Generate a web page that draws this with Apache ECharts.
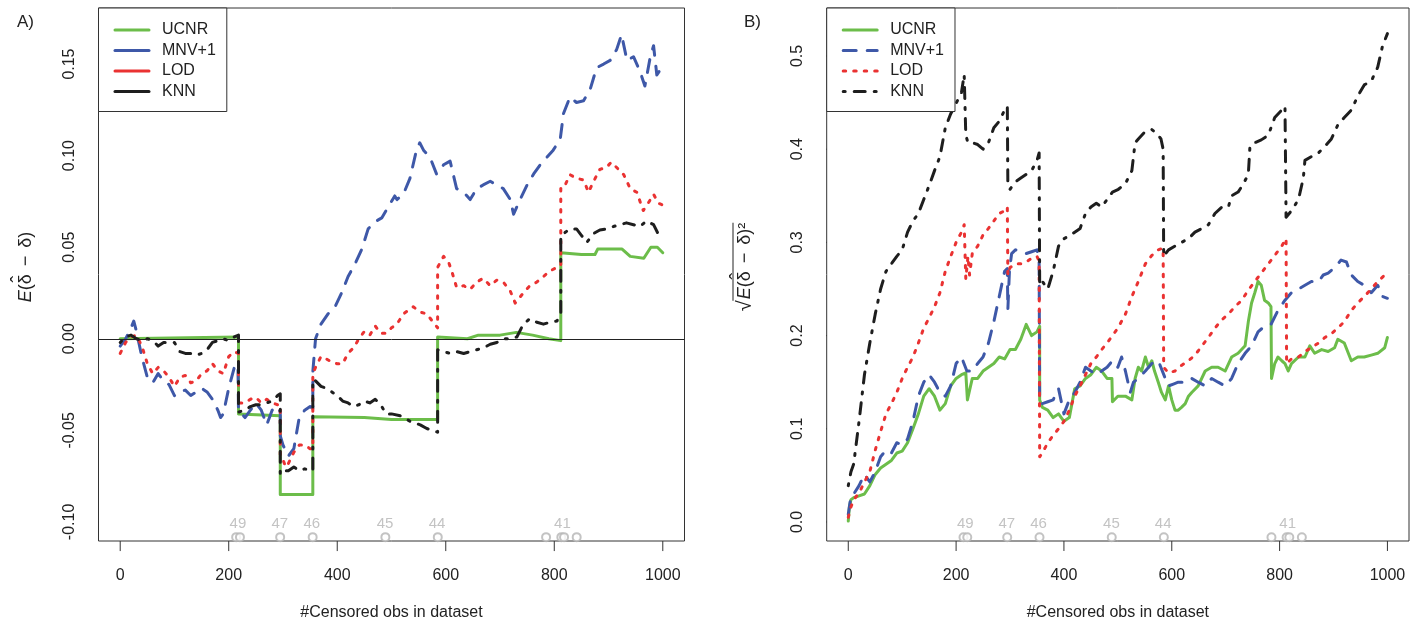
<!DOCTYPE html>
<html>
<head>
<meta charset="utf-8">
<script src="https://cdn.jsdelivr.net/npm/echarts@6/dist/echarts.min.js"></script>
<style>
  html, body { margin: 0; padding: 0; background: #fff; }
  #chart { width: 1421px; height: 626px; }
</style>
</head>
<body>
<div id="chart"></div>
<script>
// ---- data: [censored obs, value] ----
const X_TICKS = [0, 200, 400, 600, 800, 1000];
const A_TICKS = [-0.10, -0.05, 0, 0.05, 0.10, 0.15];
const B_TICKS = [0, 0.1, 0.2, 0.3, 0.4, 0.5];
const METHODS = ['UCNR', 'MNV+1', 'LOD', 'KNN'];

// rug of censoring points and their labels
const RUG_X = [213.7, 220.7, 294.8, 354.7, 488.7, 585.3, 784.9, 813, 818, 841.3];
const RUG_LABELS = ['49', '47', '46', '45', '44', '41'];
const RUG_LABEL_X = [217, 294, 353, 488, 584, 815];

// panel A : bias
const aUcnr = [[0,0.000],[218,0.001],[218,-0.041],[295,-0.042],[295,-0.085],[355,-0.085],[355,-0.0425],[450,-0.043],[500,-0.044],[585,-0.044],[585,0.001],[640,0.000],[660,0.002],[700,0.002],[730,0.0035],[760,0.002],[790,0.000],[812,-0.001],[812,0.047],[850,0.046],[875,0.046],[880,0.049],[925,0.049],[940,0.045],[965,0.044],[978,0.050],[990,0.050],[1000,0.047]];
const aMnv = [[0,-0.004],[10,0.000],[20,0.006],[25,0.0097],[30,0.004],[40,-0.010],[50,-0.021],[60,-0.024],[70,-0.019],[80,-0.023],[90,-0.025],[100,-0.031],[110,-0.029],[120,-0.028],[130,-0.031],[140,-0.029],[150,-0.027],[160,-0.029],[170,-0.033],[180,-0.039],[185,-0.043],[190,-0.041],[200,-0.027],[210,-0.016],[217,-0.014],[218,-0.039],[230,-0.043],[240,-0.039],[250,-0.035],[260,-0.039],[270,-0.047],[280,-0.039],[290,-0.037],[295,-0.040],[295,-0.053],[300,-0.058],[310,-0.064],[320,-0.060],[330,-0.043],[340,-0.039],[350,-0.037],[355,-0.038],[355,-0.018],[360,0.000],[370,0.008],[383,0.0136],[396,0.0175],[408,0.025],[420,0.034],[433,0.041],[445,0.0487],[457,0.060],[470,0.064],[482,0.066],[494,0.072],[506,0.078],[510,0.076],[522,0.079],[534,0.0876],[546,0.103],[552,0.107],[559,0.103],[571,0.099],[583,0.090],[596,0.095],[608,0.097],[620,0.082],[633,0.080],[645,0.076],[657,0.082],[669,0.084],[682,0.086],[694,0.084],[706,0.082],[719,0.076],[725,0.068],[737,0.076],[750,0.084],[762,0.090],[774,0.095],[786,0.099],[798,0.103],[811,0.109],[817,0.123],[829,0.132],[841,0.129],[854,0.130],[866,0.136],[878,0.148],[891,0.150],[903,0.152],[915,0.158],[924,0.166],[934,0.152],[946,0.154],[958,0.146],[967,0.138],[977,0.154],[983,0.160],[989,0.144],[1000,0.149]];
const aLod = [[0,-0.008],[10,-0.002],[20,0.001],[30,0.002],[40,-0.004],[50,-0.0136],[60,-0.019],[70,-0.0156],[80,-0.0175],[90,-0.021],[100,-0.026],[110,-0.021],[120,-0.020],[130,-0.024],[140,-0.023],[150,-0.019],[160,-0.0175],[170,-0.0136],[180,-0.0175],[190,-0.019],[200,-0.0097],[210,-0.007],[218,-0.008],[218,-0.035],[230,-0.035],[240,-0.033],[250,-0.032],[260,-0.035],[270,-0.033],[280,-0.035],[290,-0.036],[295,-0.036],[295,-0.064],[300,-0.066],[305,-0.070],[310,-0.068],[320,-0.062],[330,-0.058],[340,-0.058],[350,-0.060],[355,-0.060],[355,-0.019],[360,-0.0156],[370,-0.0097],[380,-0.011],[390,-0.0127],[400,-0.0136],[410,-0.0136],[420,-0.0078],[430,-0.005],[440,0.000],[450,0.004],[460,0.002],[470,0.007],[480,0.003],[490,0.003],[500,0.006],[510,0.008],[522,0.0136],[540,0.0175],[553,0.0146],[565,0.0136],[577,0.009],[585,0.006],[585,0.039],[596,0.045],[605,0.042],[611,0.037],[620,0.028],[633,0.029],[645,0.027],[657,0.031],[669,0.033],[682,0.029],[694,0.032],[706,0.031],[719,0.026],[728,0.0195],[743,0.025],[755,0.029],[768,0.031],[780,0.034],[792,0.037],[805,0.039],[812,0.040],[812,0.082],[817,0.082],[829,0.0896],[841,0.0876],[854,0.0867],[863,0.080],[872,0.0857],[884,0.0925],[896,0.0935],[905,0.0964],[915,0.0935],[928,0.0896],[940,0.082],[952,0.080],[964,0.070],[973,0.074],[983,0.0789],[992,0.074],[1000,0.073]];
const aKnn = [[0,-0.002],[10,0.001],[20,0.002],[30,0.000],[40,-0.001],[50,0.000],[60,-0.001],[70,-0.004],[80,-0.002],[90,-0.002],[100,-0.002],[110,-0.007],[120,-0.008],[130,-0.008],[140,-0.009],[150,-0.008],[160,-0.006],[170,-0.002],[180,-0.001],[190,0.000],[200,-0.001],[210,0.001],[218,0.002],[218,-0.040],[230,-0.039],[240,-0.037],[250,-0.036],[260,-0.036],[270,-0.035],[280,-0.034],[290,-0.031],[295,-0.030],[295,-0.074],[300,-0.072],[310,-0.072],[320,-0.070],[330,-0.072],[340,-0.071],[350,-0.072],[355,-0.072],[355,-0.022],[360,-0.023],[370,-0.026],[380,-0.027],[390,-0.029],[400,-0.031],[410,-0.034],[420,-0.035],[430,-0.037],[440,-0.036],[450,-0.034],[460,-0.035],[470,-0.033],[480,-0.036],[490,-0.041],[500,-0.041],[516,-0.042],[534,-0.045],[553,-0.047],[565,-0.049],[577,-0.050],[585,-0.051],[585,-0.006],[596,-0.007],[608,-0.008],[620,-0.007],[633,-0.008],[645,-0.007],[657,-0.006],[669,-0.005],[682,-0.003],[694,-0.002],[706,0.000],[719,0.000],[731,0.001],[743,0.008],[755,0.011],[768,0.009],[780,0.008],[792,0.009],[805,0.0097],[812,0.0136],[812,0.0565],[817,0.0574],[829,0.060],[841,0.060],[850,0.0565],[860,0.0526],[872,0.0574],[884,0.0594],[896,0.060],[909,0.0613],[921,0.0623],[933,0.0633],[946,0.0623],[958,0.0613],[970,0.0643],[983,0.0623],[992,0.057],[1000,0.0565]];

// panel B : root mean squared error
const bUcnr = [[0,0.001],[2,0.016],[5,0.024],[10,0.026],[20,0.028],[30,0.030],[40,0.039],[50,0.051],[60,0.058],[70,0.062],[80,0.066],[90,0.074],[100,0.076],[110,0.085],[120,0.100],[130,0.116],[140,0.135],[150,0.143],[160,0.135],[170,0.120],[180,0.127],[190,0.146],[200,0.154],[210,0.158],[218,0.160],[221,0.131],[230,0.154],[240,0.154],[250,0.162],[260,0.166],[270,0.170],[280,0.177],[290,0.175],[300,0.185],[310,0.185],[320,0.196],[330,0.212],[340,0.200],[350,0.204],[355,0.210],[355,0.131],[360,0.123],[370,0.120],[380,0.112],[390,0.116],[400,0.108],[410,0.112],[420,0.143],[430,0.146],[440,0.154],[450,0.158],[460,0.166],[470,0.162],[480,0.154],[489,0.154],[490,0.129],[500,0.135],[514,0.135],[526,0.131],[532,0.154],[538,0.166],[544,0.162],[551,0.177],[557,0.166],[563,0.173],[568,0.162],[575,0.150],[581,0.139],[588,0.131],[594,0.146],[600,0.131],[606,0.120],[612,0.120],[618,0.123],[625,0.127],[631,0.135],[637,0.139],[649,0.146],[662,0.162],[674,0.166],[686,0.166],[699,0.162],[711,0.177],[723,0.181],[736,0.189],[742,0.215],[748,0.235],[754,0.246],[760,0.258],[766,0.254],[772,0.238],[779,0.235],[784,0.231],[785,0.154],[791,0.170],[797,0.177],[804,0.173],[810,0.170],[816,0.162],[822,0.170],[835,0.177],[847,0.177],[856,0.189],[865,0.181],[878,0.185],[890,0.183],[902,0.187],[908,0.196],[920,0.192],[933,0.173],[945,0.177],[957,0.177],[970,0.179],[982,0.181],[995,0.187],[1000,0.198]];
const bMnv = [[0,0.008],[5,0.028],[10,0.030],[20,0.039],[30,0.051],[40,0.043],[50,0.054],[60,0.070],[70,0.077],[80,0.074],[90,0.085],[100,0.083],[110,0.089],[120,0.108],[130,0.135],[140,0.150],[150,0.158],[160,0.150],[170,0.139],[180,0.135],[190,0.146],[200,0.170],[210,0.177],[220,0.162],[230,0.162],[240,0.170],[250,0.177],[260,0.192],[270,0.215],[280,0.242],[290,0.269],[295,0.272],[296,0.228],[299,0.270],[303,0.288],[310,0.292],[320,0.290],[330,0.288],[340,0.290],[350,0.292],[354,0.281],[355,0.127],[360,0.127],[370,0.129],[380,0.131],[390,0.143],[400,0.116],[410,0.131],[420,0.139],[430,0.150],[440,0.166],[450,0.162],[460,0.158],[470,0.162],[480,0.166],[490,0.173],[500,0.166],[507,0.177],[514,0.162],[523,0.139],[529,0.150],[538,0.154],[551,0.162],[563,0.170],[575,0.173],[588,0.154],[594,0.146],[603,0.148],[612,0.150],[625,0.150],[637,0.154],[649,0.150],[662,0.146],[674,0.154],[686,0.150],[699,0.146],[711,0.154],[723,0.170],[736,0.181],[748,0.189],[760,0.204],[772,0.210],[784,0.212],[797,0.227],[810,0.238],[822,0.246],[835,0.250],[847,0.254],[859,0.258],[872,0.258],[881,0.265],[890,0.267],[902,0.273],[914,0.281],[924,0.279],[933,0.265],[945,0.258],[957,0.254],[970,0.246],[982,0.254],[991,0.242],[1000,0.240]];
const bLod = [[0,0.005],[5,0.016],[10,0.024],[20,0.031],[30,0.043],[40,0.054],[50,0.077],[60,0.097],[70,0.116],[80,0.127],[90,0.139],[100,0.154],[110,0.166],[120,0.177],[130,0.192],[140,0.208],[150,0.219],[160,0.231],[170,0.246],[180,0.269],[190,0.285],[200,0.300],[210,0.311],[215,0.319],[218,0.261],[222,0.285],[225,0.265],[230,0.288],[240,0.296],[250,0.308],[260,0.315],[270,0.323],[280,0.331],[290,0.334],[295,0.338],[296,0.265],[300,0.273],[310,0.277],[320,0.277],[330,0.279],[340,0.283],[350,0.285],[354,0.280],[355,0.070],[360,0.074],[370,0.085],[380,0.093],[390,0.100],[400,0.108],[410,0.120],[420,0.135],[430,0.146],[440,0.158],[450,0.170],[460,0.177],[470,0.185],[480,0.192],[490,0.200],[500,0.208],[514,0.223],[526,0.242],[538,0.258],[551,0.277],[563,0.286],[575,0.292],[584,0.294],[585,0.166],[594,0.160],[606,0.162],[618,0.168],[631,0.173],[643,0.179],[656,0.189],[668,0.198],[680,0.208],[693,0.217],[705,0.223],[717,0.231],[730,0.238],[741,0.248],[754,0.258],[766,0.267],[779,0.277],[791,0.286],[804,0.296],[812,0.304],[813,0.170],[822,0.175],[835,0.177],[847,0.183],[859,0.187],[872,0.192],[884,0.198],[896,0.202],[908,0.208],[920,0.215],[933,0.227],[945,0.235],[957,0.242],[970,0.250],[982,0.258],[995,0.265],[1000,0.269]];
const bKnn = [[0,0.039],[5,0.054],[10,0.062],[20,0.108],[30,0.158],[40,0.192],[50,0.223],[60,0.250],[70,0.269],[80,0.277],[90,0.285],[100,0.292],[110,0.311],[120,0.323],[130,0.331],[140,0.346],[150,0.361],[160,0.377],[170,0.392],[180,0.423],[190,0.438],[200,0.449],[210,0.461],[215,0.480],[218,0.415],[222,0.407],[230,0.407],[240,0.405],[250,0.400],[260,0.407],[270,0.423],[280,0.430],[290,0.442],[295,0.446],[296,0.361],[300,0.357],[310,0.365],[320,0.369],[330,0.373],[340,0.377],[350,0.388],[354,0.396],[355,0.254],[360,0.258],[370,0.250],[380,0.269],[390,0.296],[400,0.304],[410,0.307],[420,0.311],[430,0.315],[440,0.331],[450,0.338],[460,0.342],[470,0.338],[480,0.346],[490,0.354],[501,0.357],[514,0.363],[526,0.377],[532,0.407],[538,0.411],[551,0.419],[563,0.421],[572,0.417],[580,0.411],[584,0.400],[585,0.285],[594,0.292],[606,0.296],[618,0.300],[631,0.304],[643,0.311],[656,0.315],[668,0.319],[680,0.331],[693,0.338],[705,0.338],[711,0.350],[723,0.354],[731,0.361],[742,0.373],[745,0.403],[754,0.407],[766,0.410],[779,0.415],[791,0.434],[804,0.442],[810,0.446],[812,0.327],[822,0.334],[835,0.346],[844,0.369],[847,0.388],[859,0.392],[872,0.396],[884,0.403],[896,0.411],[908,0.426],[920,0.434],[933,0.442],[945,0.457],[957,0.469],[970,0.473],[982,0.488],[991,0.511],[1000,0.524]];

// ---- styling ----
const FONT = 'Liberation Sans, Arial, Helvetica, sans-serif';
const INK = '#222';
const FRAME = '#333';
const RUG_COLOR = '#b4b4b4';
const STYLES = {
    'UCNR': { color: '#6cbd4a', type: 'solid' },
    'MNV+1': { color: '#3e58a8', type: [13, 11] },
    'LOD': { color: '#ea3232', type: [2.5, 8] },
    'KNN': { color: '#1e1e1e', type: [2, 9, 11, 9] }
};
// axis limits (R style, 4% padding)
const X_MIN = -40, X_MAX = 1040;
const A_MIN = -0.1104, A_MAX = 0.1806;
const B_MIN = -0.0204, B_MAX = 0.5515;
const A_RUG_Y = -0.1083, A_RUG_LABEL_Y = -0.1012;
const B_RUG_Y = -0.0164, B_RUG_LABEL_Y = -0.0025;
// tick length of about 10 px, expressed in axis units
const X_TICK_LEN = 18.5;
const A_TICK_LEN = 0.0055;
const B_TICK_LEN = 0.0107;

function lineSeries(name, data, idx) {
    const s = STYLES[name];
    return {
        name: name,
        type: 'line',
        xAxisIndex: idx,
        yAxisIndex: idx,
        data: data,
        symbol: 'none',
        showSymbol: false,
        silent: true,
        z: 3,
        lineStyle: { color: s.color, width: 3, type: s.type, cap: 'round', join: 'round' },
        itemStyle: { color: s.color }
    };
}

function rugSeries(idx, y, labelY) {
    return [{
        type: 'scatter',
        xAxisIndex: idx,
        yAxisIndex: idx,
        data: RUG_X.map(x => [x, y]),
        symbol: 'emptyCircle',
        symbolSize: 8,
        silent: true,
        z: 2,
        itemStyle: { color: RUG_COLOR, borderColor: RUG_COLOR, borderWidth: 1 }
    }, {
        type: 'scatter',
        xAxisIndex: idx,
        yAxisIndex: idx,
        data: RUG_LABEL_X.map((x, i) => ({ value: [x, labelY], name: RUG_LABELS[i] })),
        symbolSize: 0,
        silent: true,
        z: 2,
        label: {
            show: true, position: 'inside', formatter: p => p.name,
            color: RUG_COLOR, fontSize: 15, fontFamily: FONT
        }
    }];
}

// outward R-style tick marks as short unclipped segments
function tickSeries(idx, yMin, yTicks, yLen) {
    const data = [];
    X_TICKS.forEach(v => { data.push([v, yMin], [v, yMin - yLen], [v, null]); });
    yTicks.forEach(v => { data.push([X_MIN, v], [X_MIN - X_TICK_LEN, v], [null, v]); });
    return {
        type: 'line',
        xAxisIndex: idx,
        yAxisIndex: idx,
        data: data,
        symbol: 'none',
        showSymbol: false,
        connectNulls: false,
        clip: false,
        silent: true,
        z: 10,
        lineStyle: { color: FRAME, width: 1, type: 'solid' }
    };
}

function xAxis(idx) {
    return {
        type: 'value', gridIndex: idx, min: X_MIN, max: X_MAX,
        name: '#Censored obs in dataset', nameLocation: 'middle', nameGap: 64,
        nameTextStyle: { color: INK, fontSize: 16, fontFamily: FONT },
        axisLine: { show: false, onZero: false },
        splitLine: { show: false },
        axisTick: { show: false },
        axisLabel: { customValues: X_TICKS, margin: 27, color: INK, fontSize: 16, fontFamily: FONT, formatter: v => String(v) }
    };
}

function yAxis(idx, min, max, ticks, digits) {
    return {
        type: 'value', gridIndex: idx, min: min, max: max,
        axisLine: { show: false, onZero: false },
        splitLine: { show: false },
        axisTick: { show: false },
        axisLabel: {
            customValues: ticks, rotate: 90, margin: 21, color: INK, fontSize: 16, fontFamily: FONT,
            formatter: v => v.toFixed(digits)
        }
    };
}

function legend(left, solid) {
    return {
        orient: 'vertical', left: left, top: 8,
        data: METHODS,
        padding: [14, 11, 12, 15],
        itemWidth: 34, itemHeight: 14, itemGap: 4.5,
        backgroundColor: '#fff', borderColor: FRAME, borderWidth: 1, borderRadius: 0,
        selectedMode: false,
        itemStyle: { color: 'rgba(0,0,0,0)', borderWidth: 0 },
        lineStyle: solid ? { width: 3, type: 'solid', cap: 'round' } : { width: 3, cap: 'round' },
        textStyle: { color: INK, fontSize: 16, fontFamily: FONT, padding: [0, 0, 0, 8] }
    };
}

// ---- axis titles with a hat, built from text pieces ----
const measureCtx = document.createElement('canvas').getContext('2d');
function textWidth(t, size, italic) {
    measureCtx.font = (italic ? 'italic ' : '') + size + 'px ' + FONT;
    return measureCtx.measureText(t).width;
}
function mathTitle(cx, cy, withRoot) {
    const size = 18, gap = 8;
    const tokens = [];
    if (withRoot) tokens.push({ t: '\u221A', size: 20, pad: 1 });
    tokens.push({ t: 'E', italic: true });
    tokens.push({ t: '(' });
    tokens.push({ t: '\u03B4', hat: true });
    tokens.push({ t: '\u2212', before: gap, after: gap });
    tokens.push({ t: '\u03B4' });
    tokens.push({ t: ')' });
    if (withRoot) tokens.push({ t: '\u00B2' });
    let total = 0;
    tokens.forEach(k => {
        k.w = textWidth(k.t, k.size || size, k.italic);
        total += (k.before || 0) + k.w + (k.after || 0) + (k.pad || 0);
    });
    const children = [];
    let x = -total / 2;
    let rootEnd = null;
    tokens.forEach(k => {
        x += k.before || 0;
        children.push({
            type: 'text',
            style: {
                text: k.t, x: x, y: 0, align: 'left', verticalAlign: 'middle',
                fill: INK, fontSize: k.size || size, fontFamily: FONT,
                fontStyle: k.italic ? 'italic' : 'normal'
            }
        });
        if (k.hat) {
            children.push({
                type: 'text',
                style: {
                    text: '\u02C6', x: x + k.w / 2, y: -7, align: 'center', verticalAlign: 'middle',
                    fill: INK, fontSize: size + 2, fontFamily: FONT
                }
            });
        }
        x += k.w + (k.after || 0) + (k.pad || 0);
        if (k.t === '\u221A') rootEnd = x - 1.5;
    });
    if (withRoot) {
        children.push({
            type: 'line',
            shape: { x1: rootEnd, y1: -12, x2: x, y2: -12 },
            style: { stroke: INK, lineWidth: 1 }
        });
    }
    return { type: 'group', x: cx, y: cy, rotation: Math.PI / 2, children: children };
}

const chart = echarts.init(document.getElementById('chart'), null, { renderer: 'canvas' });

const series = [
    lineSeries('UCNR', aUcnr, 0),
    lineSeries('MNV+1', aMnv, 0),
    lineSeries('LOD', aLod, 0),
    lineSeries('KNN', aKnn, 0),
    lineSeries('UCNR', bUcnr, 1),
    lineSeries('MNV+1', bMnv, 1),
    lineSeries('LOD', bLod, 1),
    lineSeries('KNN', bKnn, 1),
    ...rugSeries(0, A_RUG_Y, A_RUG_LABEL_Y),
    ...rugSeries(1, B_RUG_Y, B_RUG_LABEL_Y),
    tickSeries(0, A_MIN, A_TICKS, A_TICK_LEN),
    tickSeries(1, B_MIN, B_TICKS, B_TICK_LEN)
];
// zero reference line in panel A
series[0].markLine = {
    silent: true, symbol: 'none', animation: false,
    label: { show: false },
    lineStyle: { color: '#222', width: 1, type: 'solid' },
    data: [{ yAxis: 0 }]
};

chart.setOption({
    animation: false,
    backgroundColor: '#fff',
    title: [
        { text: 'A)', left: 12, top: 9, textStyle: { color: INK, fontSize: 17, fontWeight: 'normal', fontFamily: FONT } },
        { text: 'B)', left: 739, top: 9, textStyle: { color: INK, fontSize: 17, fontWeight: 'normal', fontFamily: FONT } }
    ],
    grid: [
        { left: 98.5, top: 8, width: 586, height: 533.7, show: true, borderColor: FRAME, borderWidth: 1, backgroundColor: 'transparent' },
        { left: 826.7, top: 8, width: 582.3, height: 533.7, show: true, borderColor: FRAME, borderWidth: 1, backgroundColor: 'transparent' }
    ],
    xAxis: [xAxis(0), xAxis(1)],
    yAxis: [
        yAxis(0, A_MIN, A_MAX, A_TICKS, 2),
        yAxis(1, B_MIN, B_MAX, B_TICKS, 1)
    ],
    legend: [legend(98.5, true), legend(826.7, false)],
    graphic: [mathTitle(26, 267, false), mathTitle(745, 267, true)],
    series: series
});

window.addEventListener('resize', function () {
    chart.resize();
});
</script>
</body>
</html>
